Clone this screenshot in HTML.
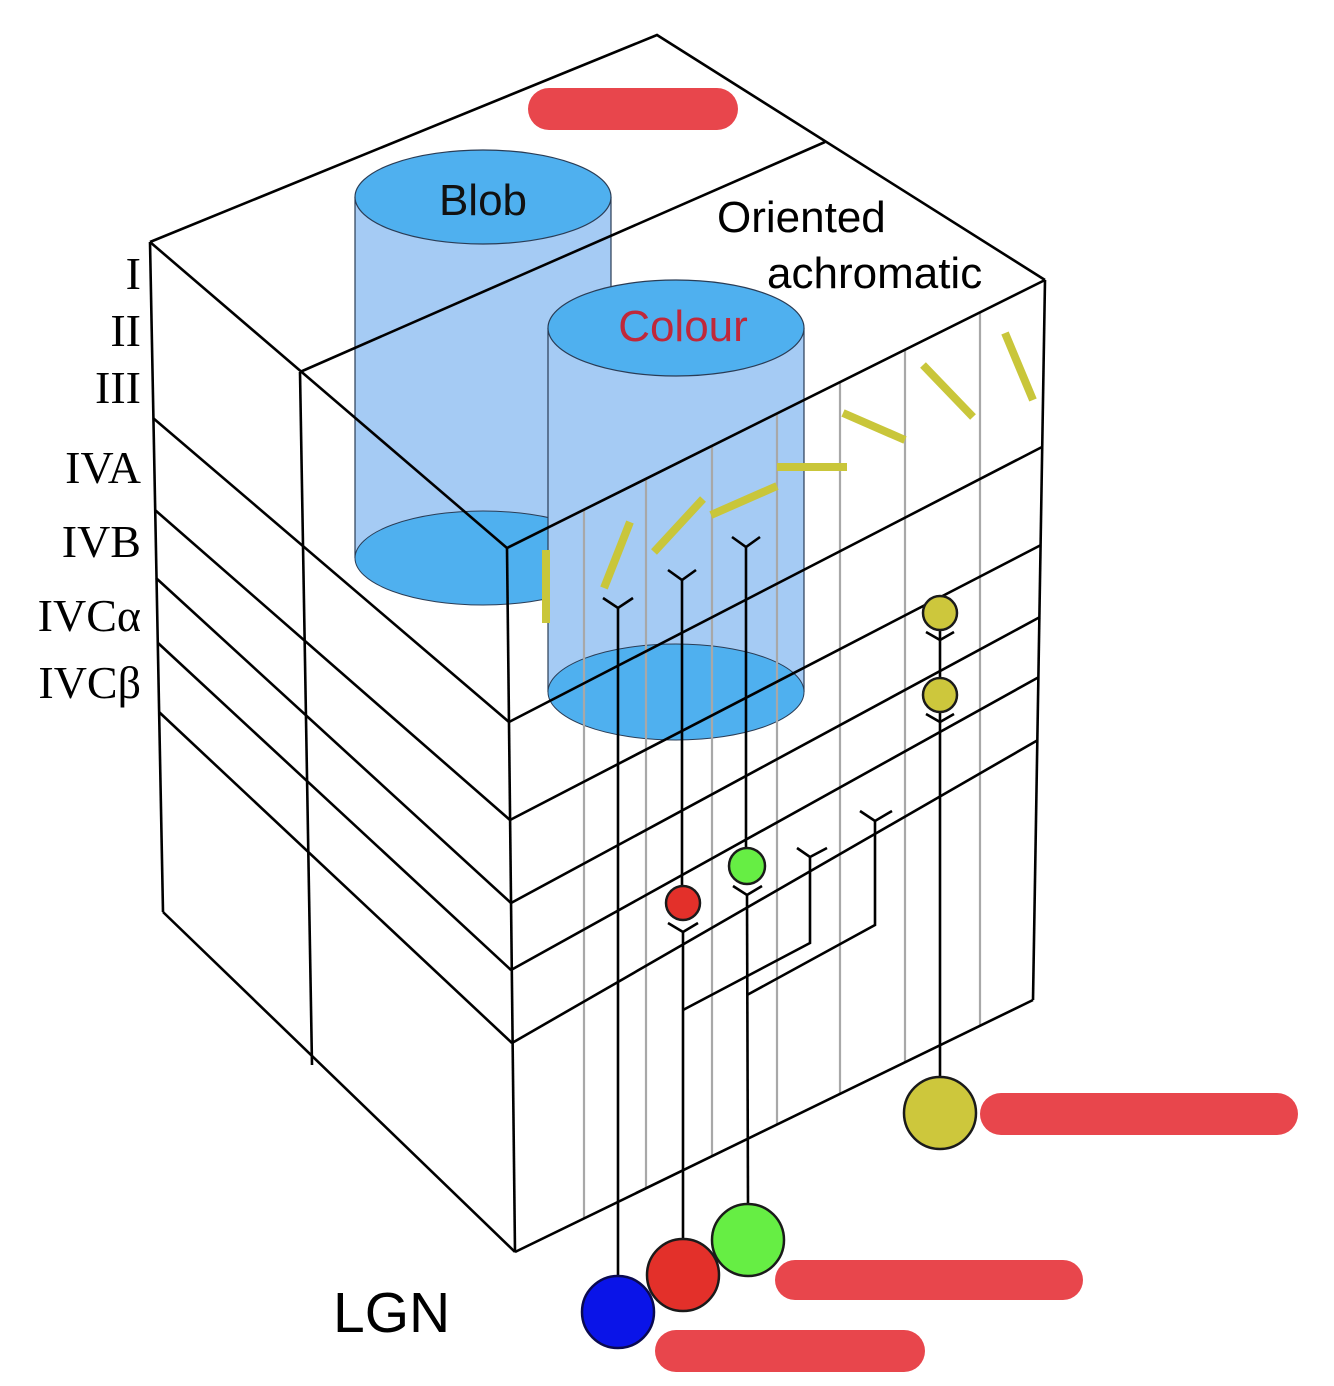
<!DOCTYPE html>
<html><head><meta charset="utf-8"><style>
html,body{margin:0;padding:0;background:#fff;}
svg{display:block;}
</style></head><body>
<svg width="1334" height="1386" viewBox="0 0 1334 1386" xmlns="http://www.w3.org/2000/svg">
<rect width="1334" height="1386" fill="#fff"/>
<!-- Blob cylinder -->
<rect x="355" y="197" width="256" height="361" fill="#a5cbf4"/>
<line x1="355" y1="197" x2="355" y2="558" stroke="#2a3c55" stroke-width="1.2"/>
<line x1="611" y1="197" x2="611" y2="558" stroke="#2a3c55" stroke-width="1.2"/>
<ellipse cx="483" cy="558" rx="128" ry="47" fill="#4fb0ef" stroke="#2a3c55" stroke-width="1"/>
<ellipse cx="483" cy="197" rx="128" ry="47" fill="#4fb0ef" stroke="#2a3c55" stroke-width="1.2"/>
<!-- Colour cylinder -->
<rect x="548" y="328" width="256" height="364" fill="#a5cbf4"/>
<line x1="548" y1="328" x2="548" y2="692" stroke="#2a3c55" stroke-width="1.2"/>
<line x1="804" y1="328" x2="804" y2="692" stroke="#2a3c55" stroke-width="1.2"/>
<ellipse cx="676" cy="692" rx="128" ry="48" fill="#4fb0ef" stroke="#2a3c55" stroke-width="1"/>
<ellipse cx="676" cy="328" rx="128" ry="48" fill="#4fb0ef" stroke="#2a3c55" stroke-width="1.2"/>
<!-- gray lines -->
<g stroke="#a8a8a8" stroke-width="2.2">
<line x1="584" y1="510" x2="584" y2="1218"/>
<line x1="646" y1="479" x2="646" y2="1188"/>
<line x1="712" y1="446" x2="712" y2="1156"/>
<line x1="777" y1="414" x2="777" y2="1124"/>
<line x1="840" y1="382" x2="840" y2="1094"/>
<line x1="905" y1="350" x2="905" y2="1062"/>
<line x1="980" y1="312" x2="980" y2="1026"/>
</g>
<!-- cube lines -->
<g stroke="#000" stroke-width="2.6" fill="none" stroke-linejoin="miter">
<polyline points="150,242 657,35 1045,280"/>
<line x1="150" y1="242" x2="507" y2="548"/>
<line x1="507" y1="548" x2="1045" y2="280"/>
<line x1="300" y1="372" x2="825" y2="142"/>
<line x1="150" y1="242" x2="163" y2="912"/>
<line x1="300" y1="372" x2="312" y2="1065"/>
<line x1="507" y1="548" x2="515" y2="1252"/>
<line x1="1045" y1="280" x2="1033" y2="1000"/>
<line x1="163" y1="912" x2="515" y2="1252"/>
<line x1="515" y1="1252" x2="1033" y2="1000"/>
<line x1="153" y1="418" x2="509" y2="722"/>
<line x1="155" y1="510" x2="510" y2="820"/>
<line x1="156" y1="578" x2="511" y2="903"/>
<line x1="158" y1="643" x2="511" y2="970"/>
<line x1="159" y1="712" x2="512" y2="1043"/>
<line x1="509" y1="722" x2="1042" y2="447"/>
<line x1="510" y1="820" x2="1041" y2="545"/>
<line x1="511" y1="903" x2="1040" y2="617"/>
<line x1="511" y1="970" x2="1039" y2="677"/>
<line x1="512" y1="1043" x2="1038" y2="740"/>
</g>
<!-- yellow bars -->
<g stroke="#c9c63a" stroke-width="8" stroke-linecap="butt">
<line x1="546" y1="550" x2="546" y2="623"/>
<line x1="630" y1="522" x2="604" y2="588"/>
<line x1="703" y1="499" x2="654" y2="552"/>
<line x1="777" y1="486" x2="711" y2="515"/>
<line x1="777" y1="467" x2="847" y2="467"/>
<line x1="843" y1="413" x2="905" y2="440"/>
<line x1="923" y1="365" x2="973" y2="417"/>
<line x1="1005" y1="333" x2="1033" y2="400"/>
</g>
<!-- neurons -->
<g stroke="#000" stroke-width="2.6" fill="none">
<line x1="618" y1="608" x2="618" y2="1280"/>
<polyline points="603,598 618,608 633,598"/>
<line x1="682" y1="580" x2="682" y2="890"/>
<polyline points="668,570 682,580 696,570"/>
<line x1="683" y1="932" x2="683" y2="1240"/>
<polyline points="668,923 683,932 698,923"/>
<line x1="746" y1="547" x2="746" y2="850"/>
<polyline points="732,537 746,547 760,537"/>
<line x1="747" y1="895" x2="748" y2="1205"/>
<polyline points="733,886 747,895 762,886"/>
<polyline points="810,857 810,943 683,1010"/>
<polyline points="797,848 810,857 827,848"/>
<polyline points="875,821 875,925 747,995"/>
<polyline points="860,811 875,821 892,811"/>
<line x1="940" y1="630" x2="940" y2="678"/>
<line x1="940" y1="712" x2="940" y2="1080"/>
<polyline points="926,632 940,640 954,632"/>
<polyline points="926,714 940,722 954,714"/>
</g>
<g stroke="#1a1a1a" stroke-width="2.5">
<circle cx="683" cy="903" r="17" fill="#e3302a"/>
<circle cx="747" cy="866" r="18" fill="#66ee44"/>
<circle cx="940" cy="613" r="17" fill="#cdc73c"/>
<circle cx="940" cy="695" r="17" fill="#cdc73c"/>
<circle cx="940" cy="1113" r="36" fill="#cdc73c"/>
<circle cx="748" cy="1240" r="36" fill="#66ee44"/>
<circle cx="683" cy="1275" r="36" fill="#e3302a"/>
<circle cx="618" cy="1312" r="36" fill="#0a14e8" stroke="#0a0a50"/>
</g>
<!-- text -->
<g font-family="Liberation Sans, sans-serif" font-size="44">
<text x="483" y="215" text-anchor="middle" fill="#111">Blob</text>
<text x="683" y="341" text-anchor="middle" fill="#c0283a">Colour</text>
<text x="717" y="232" fill="#000">Oriented</text>
<text x="767" y="288" fill="#000">achromatic</text>
<text x="333" y="1332" font-size="57" fill="#000">LGN</text>
</g>
<g font-family="Liberation Serif, serif" font-size="46" fill="#000" text-anchor="end">
<text x="141" y="289">I</text>
<text x="141" y="346">II</text>
<text x="141" y="403">III</text>
<text x="141" y="483">IVA</text>
<text x="141" y="557">IVB</text>
<text x="141" y="631">IVCα</text>
<text x="141" y="698">IVCβ</text>
</g>
<!-- red scribbles -->
<g fill="#e8464c">
<rect x="528" y="88" width="210" height="42" rx="21"/>
<rect x="980" y="1093" width="318" height="42" rx="21"/>
<rect x="775" y="1260" width="308" height="40" rx="20"/>
<rect x="655" y="1330" width="270" height="42" rx="21"/>
</g>
</svg>
</body></html>
